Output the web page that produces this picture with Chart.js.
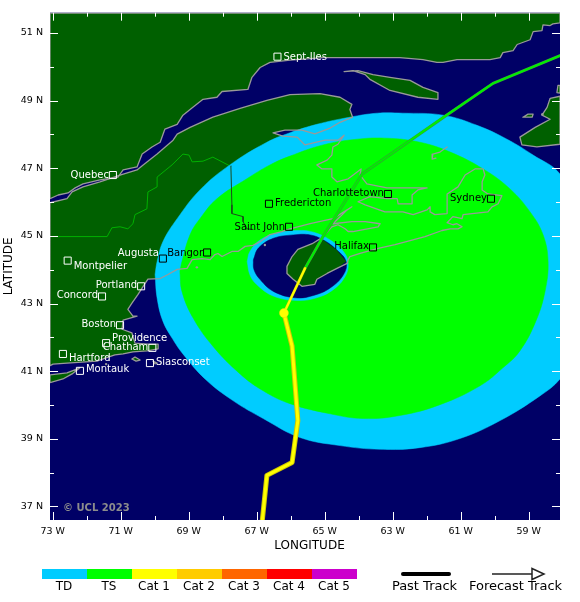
<!DOCTYPE html>
<html><head><meta charset="utf-8">
<style>html,body{margin:0;padding:0;background:#fff}canvas{display:block}</style>
<script src="https://cdn.jsdelivr.net/npm/chart.js@4/dist/chart.umd.min.js"></script>
</head><body><canvas id="c" width="580" height="602"></canvas>
<script>
// Axis ranges and ticks (degrees)
const lonRange=[-73.08,-58.08];
const latRange=[36.6,51.6];
const lonTicks=[-73,-71,-69,-67,-65,-63,-61,-59];
const lonMinor=[-72,-70,-68,-66,-64,-62,-60];
const latTicks=[37,39,41,43,45,47,49,51];
const latMinor=[38,40,42,44,46,48,50];

// Coastlines [lon,lat]
const northShore=[[-73.08,46.10],[-72.84,46.21],[-72.55,46.27],[-72.34,46.42],[-72.11,46.54],[-71.61,46.66],[-71.08,46.74],[-70.93,46.95],[-70.52,47.04],[-70.37,47.42],[-70.08,47.63],[-69.84,47.77],[-69.70,48.16],[-69.34,48.30],[-69.17,48.57],[-68.96,48.74],[-68.58,49.04],[-68.17,49.10],[-68.02,49.27],[-67.26,49.33],[-67.14,49.69],[-66.90,49.98],[-66.61,50.13],[-66.02,50.20],[-65.05,50.27],[-63.87,50.27],[-62.79,50.27],[-62.11,50.21],[-61.70,50.13],[-61.52,50.13],[-61.11,50.21],[-60.14,50.21],[-59.84,50.27],[-59.76,50.42],[-59.46,50.48],[-59.34,50.66],[-58.96,50.80],[-58.87,51.04],[-58.61,51.07],[-58.58,51.24],[-58.37,51.22],[-58.29,51.27],[-58.08,51.30],[-58.08,51.59],[-73.08,51.59]];
const mainCoast=[[-73.08,45.98],[-72.58,46.10],[-72.43,46.30],[-72.11,46.45],[-71.61,46.60],[-71.02,46.80],[-70.52,46.95],[-70.34,47.10],[-69.93,47.42],[-69.46,47.83],[-69.34,48.01],[-68.96,48.21],[-68.29,48.51],[-67.49,48.77],[-66.70,49.01],[-66.02,49.18],[-65.14,49.21],[-64.55,49.10],[-64.20,48.89],[-64.26,48.74],[-64.18,48.51],[-64.55,48.36],[-64.84,48.19],[-65.29,48.02],[-65.67,48.13],[-66.17,48.13],[-66.52,48.05],[-66.23,47.95],[-65.81,47.92],[-65.58,47.69],[-64.99,47.83],[-64.61,47.83],[-64.43,47.98],[-64.61,47.71],[-64.76,47.63],[-64.79,47.39],[-64.93,47.24],[-65.23,47.10],[-65.08,46.98],[-64.79,46.98],[-64.79,46.74],[-64.64,46.60],[-64.31,46.69],[-63.93,46.98],[-63.96,46.80],[-63.76,46.54],[-63.17,46.42],[-61.99,46.42],[-62.26,46.36],[-62.43,46.21],[-62.43,45.95],[-62.84,45.95],[-62.87,46.10],[-63.17,46.10],[-63.67,46.16],[-64.02,46.01],[-63.81,45.92],[-63.23,45.71],[-62.70,45.71],[-62.40,45.63],[-61.99,45.77],[-61.90,45.86],[-61.90,45.71],[-61.76,45.63],[-61.40,45.66],[-61.40,46.24],[-61.08,46.45],[-60.87,46.80],[-60.58,46.98],[-60.34,46.98],[-60.29,46.80],[-60.37,46.60],[-60.37,46.36],[-60.20,46.24],[-59.79,46.19],[-59.90,45.95],[-60.08,45.86],[-60.20,45.71],[-60.93,45.63],[-60.96,45.51],[-61.23,45.57],[-61.40,45.39],[-61.23,45.33],[-61.11,45.36],[-60.96,45.27],[-61.08,45.21],[-61.31,45.21],[-61.55,45.16],[-62.05,44.98],[-62.49,44.86],[-62.93,44.74],[-63.43,44.63],[-63.96,44.48],[-64.26,44.39],[-64.31,44.30],[-64.34,44.19],[-64.64,44.04],[-64.93,43.89],[-65.23,43.72],[-65.29,43.57],[-65.67,43.51],[-65.93,43.72],[-66.11,43.89],[-66.11,44.10],[-65.96,44.39],[-65.79,44.60],[-65.37,44.77],[-65.08,44.95],[-64.79,45.27],[-64.61,45.33],[-64.40,45.21],[-64.31,45.13],[-64.17,45.13],[-63.43,45.27],[-63.37,45.36],[-63.81,45.42],[-64.20,45.42],[-64.76,45.36],[-64.34,45.77],[-64.20,45.86],[-64.34,45.77],[-64.76,45.51],[-65.43,45.36],[-66.02,45.21],[-66.26,45.13],[-66.61,45.04],[-66.90,44.83],[-67.11,44.72],[-67.34,44.69],[-67.55,44.54],[-67.73,44.54],[-68.02,44.39],[-68.14,44.48],[-68.23,44.45],[-68.37,44.30],[-68.61,44.33],[-68.90,44.30],[-69.05,44.04],[-69.34,44.01],[-69.61,43.86],[-69.84,43.74],[-70.20,43.72],[-70.34,43.51],[-70.49,43.27],[-70.67,43.01],[-70.79,42.83],[-70.64,42.63],[-70.52,42.63],[-70.93,42.51],[-70.96,42.24],[-70.67,42.13],[-70.58,41.83],[-70.20,41.80],[-69.90,41.80],[-69.90,41.66],[-70.23,41.60],[-70.64,41.57],[-70.93,41.51],[-71.17,41.48],[-71.26,41.45],[-71.70,41.30],[-72.58,41.24],[-72.99,41.21],[-73.08,41.16]];
const holeLand=[[-65.04,44.88],[-65.37,44.77],[-65.79,44.60],[-65.96,44.39],[-66.11,44.10],[-66.11,43.89],[-65.93,43.72],[-65.67,43.51],[-65.29,43.57],[-65.23,43.72],[-64.93,43.89],[-64.64,44.04],[-64.37,44.24],[-64.65,44.59]];
const anticosti=[[-64.43,49.86],[-64.17,49.89],[-63.81,49.77],[-63.67,49.63],[-63.08,49.30],[-62.26,49.10],[-61.67,49.04],[-61.67,49.24],[-62.11,49.39],[-62.49,49.60],[-63.08,49.69],[-63.58,49.77],[-64.02,49.89]];
const newfoundland=[[-58.08,49.13],[-58.37,49.07],[-58.46,48.80],[-58.61,48.57],[-58.37,48.45],[-58.81,48.21],[-59.26,47.92],[-59.20,47.69],[-58.76,47.63],[-58.08,47.71]];
const nfNorthBit=[[-58.14,49.45],[-58.17,49.24],[-58.08,49.22],[-58.08,49.45]];
const nfIslet=[[-59.17,48.51],[-59.02,48.60],[-58.87,48.60],[-58.90,48.51]];
const longIsland=[[-73.08,40.89],[-72.58,40.95],[-72.20,41.10],[-72.43,40.92],[-72.70,40.77],[-73.08,40.66]];
const marthasVineyard=[[-70.67,41.36],[-70.58,41.42],[-70.43,41.33],[-70.55,41.30]];
const nantucket=[[-70.05,41.30],[-69.93,41.24],[-70.00,41.22]];
const magdalen=[[-61.40,47.63],[-61.61,47.48],[-61.82,47.42],[-61.84,47.27],[-61.73,47.30]];
const tinyIslands=[[-68.76,44.07],[-66.76,44.73],[-71.43,41.21],[-58.6,48.6]];

// Border lines
const borderLand=[[-73.08,44.98],[-71.40,44.98],[-71.26,45.24],[-71.02,45.27],[-70.79,45.21],[-70.64,45.36],[-70.58,45.63],[-70.23,45.80],[-70.20,46.30],[-69.93,46.45],[-69.93,46.74],[-69.49,47.10],[-69.17,47.42],[-68.99,47.39],[-68.90,47.19],[-68.58,47.21],[-68.29,47.33],[-67.79,47.07]];
const borderSwath=[[-67.76,47.07],[-67.73,45.92],[-67.73,45.66],[-67.40,45.57],[-67.40,45.42],[-67.29,45.21],[-67.11,45.19]];

// Wind swath contours
const swathTD=[[-69.99,43.86],[-69.93,44.24],[-69.76,44.83],[-69.34,45.51],[-68.67,46.36],[-67.79,47.10],[-66.70,47.77],[-66.02,48.05],[-65.23,48.30],[-64.26,48.51],[-63.46,48.63],[-62.70,48.63],[-61.52,48.57],[-60.52,48.27],[-59.64,47.86],[-58.87,47.39],[-58.08,46.83],[-57.20,45.27],[-56.76,43.66],[-57.05,42.19],[-58.08,40.77],[-58.67,40.27],[-59.84,39.54],[-61.02,39.01],[-62.20,38.74],[-63.37,38.69],[-64.55,38.80],[-65.73,39.04],[-66.81,39.60],[-67.70,40.13],[-68.52,40.77],[-69.17,41.51],[-69.49,41.98],[-69.76,42.48],[-69.93,43.16]];
const swathTS=[[-69.26,43.95],[-69.20,44.24],[-68.96,45.04],[-68.67,45.51],[-68.17,46.10],[-67.29,46.69],[-66.61,47.10],[-66.02,47.36],[-65.05,47.69],[-64.05,47.86],[-63.17,47.89],[-62.20,47.77],[-61.31,47.48],[-60.34,46.98],[-59.55,46.39],[-58.96,45.71],[-58.58,45.04],[-58.43,44.24],[-58.52,43.36],[-58.79,42.48],[-59.26,41.60],[-59.76,41.10],[-60.43,40.57],[-61.61,40.01],[-62.79,39.69],[-63.87,39.60],[-64.84,39.74],[-66.02,40.04],[-66.81,40.42],[-67.49,40.92],[-68.29,41.74],[-68.87,42.57],[-69.20,43.36]];
const innerTD=[[-67.28,44.24],[-67.20,44.54],[-66.90,44.88],[-66.41,45.08],[-65.82,45.16],[-65.33,45.11],[-64.84,44.88],[-64.45,44.54],[-64.31,44.19],[-64.40,43.80],[-64.75,43.41],[-65.24,43.17],[-65.82,43.09],[-66.51,43.22],[-67.00,43.56],[-67.20,43.85]];
const innerEye=[[-67.10,44.29],[-66.95,44.64],[-66.51,44.93],[-65.92,45.03],[-65.43,45.03],[-65.04,44.88],[-64.65,44.59],[-64.37,44.24],[-64.45,43.85],[-64.84,43.46],[-65.33,43.24],[-65.87,43.17],[-66.51,43.36],[-66.90,43.71],[-67.08,44.00]];

// Storm track
const pastTrack=[[-66.84,36.55],[-66.70,37.92],[-65.96,38.30],[-65.79,39.54],[-65.96,41.74],[-66.20,42.72]];
const forecastCat1=[[-66.20,42.72],[-65.58,44.04]];
const forecastTS=[[-65.58,44.04],[-65.05,44.98],[-63.90,46.83],[-61.46,48.54],[-60.05,49.51],[-58.08,50.33]];
const currentPos=[[-66.20,42.72]];

// Cities
const cityNames=['Sept-Iles','Quebec','Fredericton','Saint John','Charlottetown','Sydney','Halifax','Bangor','Augusta','Montpelier','Portland','Concord','Boston','Providence','Chatham','Hartford','Montauk','Siasconset'];
const cityLon=[-66.39,-71.23,-66.64,-66.05,-63.14,-60.11,-63.58,-68.46,-69.76,-72.56,-70.40,-71.55,-71.02,-71.43,-70.07,-72.70,-72.20,-70.14];
const cityLat=[50.30,46.80,45.95,45.27,46.24,46.10,44.66,44.51,44.33,44.27,43.51,43.21,42.36,41.83,41.69,41.51,41.01,41.24];
const cityAlign=['left','right','left','right','right','right','right','right','right','left','right','right','right','left','right','left','left','left'];
const cityDy=[1,0,0,1,-1,0,-1,1,-5,6,-1,-1,-1,-5,0,4,-1,-1];
const cityInSwath=[0,0,1,1,1,1,1,1,0,0,0,0,0,0,0,0,0,0];
const markerDark=[0,0,1,1,1,1,1,1,1,0,0,0,0,0,0,0,0,0];

// Legend
const legendLabels=['TD','TS','Cat 1','Cat 2','Cat 3','Cat 4','Cat 5'];
const legendColors=['#00ccff','#00ff00','#ffff00','#ffcc00','#ff6600','#ff0000','#cc00cc'];
const xTitle='LONGITUDE', yTitle='LATITUDE', credit='\u00a9 UCL 2023';

const OCEAN='#000066',LAND='#006000',COAST='#999999';
const pts=a=>a.map(p=>({x:p[0],y:p[1]}));
const ring=a=>pts(a.concat([a[0]]));
const area=(a,color,smooth)=>({data:ring(a),showLine:true,fill:'shape',backgroundColor:color,borderColor:color,borderWidth:smooth?0.5:0,tension:smooth?0.4:0});
const line=(a,color,w)=>({data:pts(a),showLine:true,fill:false,borderColor:color,borderWidth:w,tension:0,borderCapStyle:'round',borderJoinStyle:'round'});
const outline=a=>line(a.concat([a[0]]),COAST,1.3);

const layers=[
 area(northShore,LAND),area(mainCoast,LAND),area(anticosti,LAND),area(newfoundland,LAND),area(nfNorthBit,LAND),area(nfIslet,LAND),area(longIsland,LAND),area(marthasVineyard,LAND),area(nantucket,LAND),
 line(borderLand,'#00b000',1),
 area(swathTD,'#00ccff',true),area(swathTS,'#00ff00',true),area(innerTD,'#00ccff',true),area(innerEye,OCEAN,true),area(holeLand,LAND),
 outline(northShore),outline(mainCoast),outline(anticosti),outline(newfoundland),outline(nfNorthBit),outline(nfIslet),outline(longIsland),outline(marthasVineyard),outline(nantucket),line(magdalen,COAST,1.3),
 {data:pts(tinyIslands),showLine:false,pointRadius:1.2,pointBackgroundColor:COAST,pointBorderWidth:0},
 line(borderSwath,'#1c4a1c',1),
 line(forecastTS,'#3a9a3a',3),line(forecastTS,'#00f000',2),
 line(forecastCat1,'#d8d800',2.8),line(forecastCat1,'#ffff00',1.8),
 line(pastTrack,'#d0c800',5),line(pastTrack,'#ffff00',3),
 {data:pts(currentPos),showLine:false,pointRadius:4.5,pointBackgroundColor:'#ffff00',pointBorderColor:'#e0e000',pointBorderWidth:0.5},
 {data:cityLon.map((v,i)=>({x:v,y:cityLat[i]})),showLine:false,pointStyle:'rect',pointRadius:5,pointBackgroundColor:'rgba(0,0,0,0)',pointBorderWidth:1,pointBorderColor:markerDark.map(d=>d?'#000':'#fff')}
];

const mapPlugin={id:'map',
 beforeDatasetsDraw(ch){const {ctx,chartArea:a}=ch;ctx.save();ctx.fillStyle=OCEAN;ctx.fillRect(a.left,a.top,a.width,a.height);ctx.restore();},
 afterDatasetsDraw(ch){
  const {ctx,chartArea:a,scales:{x,y}}=ch;ctx.save();
  // ticks on all four sides
  ctx.strokeStyle='#fff';ctx.lineWidth=1;ctx.beginPath();
  const vt=(v,l)=>{const p=Math.round(x.getPixelForValue(v))+.5;ctx.moveTo(p,a.top);ctx.lineTo(p,a.top+l);ctx.moveTo(p,a.bottom);ctx.lineTo(p,a.bottom-l);};
  const ht=(v,l)=>{const p=Math.round(y.getPixelForValue(v))+.5;ctx.moveTo(a.left,p);ctx.lineTo(a.left+l,p);ctx.moveTo(a.right,p);ctx.lineTo(a.right-l,p);};
  lonTicks.forEach(v=>vt(v,8));lonMinor.forEach(v=>vt(v,4));latTicks.forEach(v=>ht(v,8));latMinor.forEach(v=>ht(v,4));ctx.stroke();
  // city labels
  ctx.font='10px "DejaVu Sans"';ctx.textBaseline='middle';
  cityNames.forEach((n,i)=>{const left=cityAlign[i]==='left';ctx.textAlign=cityAlign[i];ctx.fillStyle=cityInSwath[i]?'#000':'#fff';
   ctx.fillText(n,x.getPixelForValue(cityLon[i])+(left?6:-4),y.getPixelForValue(cityLat[i])+cityDy[i]);});
  ctx.font='bold 10px "DejaVu Sans"';ctx.textAlign='left';ctx.fillStyle='#8c8c8c';ctx.fillText(credit,63,508);
  // axis x title
  ctx.font='12px "DejaVu Sans"';ctx.textAlign='center';ctx.fillStyle='#000';ctx.fillText(xTitle,309.5,546);
  // legend
  const lx=42,lw=45,ly=569,lh=10;
  legendLabels.forEach((t,i)=>{ctx.fillStyle=legendColors[i];ctx.fillRect(lx+i*lw,ly,lw,lh);ctx.fillStyle='#000';ctx.fillText(t,lx+i*lw+lw/2-0.5,586.5);});
  ctx.font='13px "DejaVu Sans"';
  ctx.fillText('Past Track',424.5,586.5);ctx.fillText('Forecast Track',515.5,586.5);
  ctx.strokeStyle='#000';ctx.lineCap='round';ctx.lineWidth=4;ctx.beginPath();ctx.moveTo(403,574);ctx.lineTo(449,574);ctx.stroke();
  ctx.lineCap='butt';ctx.strokeStyle='#222';ctx.lineWidth=1.5;ctx.beginPath();ctx.moveTo(492,574);ctx.lineTo(532,574);ctx.stroke();
  ctx.beginPath();ctx.moveTo(532,568.5);ctx.lineTo(544,574);ctx.lineTo(532,579.5);ctx.closePath();ctx.stroke();
  ctx.restore();
 }};

new Chart(document.getElementById('c'),{
 type:'scatter',
 data:{datasets:layers.slice().reverse()},
 plugins:[mapPlugin],
 options:{responsive:false,animation:false,devicePixelRatio:1,
  layout:{padding:{top:10,right:20,left:0,bottom:0}},
  elements:{point:{radius:0}},
  plugins:{legend:{display:false},tooltip:{enabled:false}},
  scales:{
   x:{type:'linear',min:lonRange[0],max:lonRange[1],position:'bottom',
    grid:{display:false,drawTicks:false},border:{display:false},
    afterBuildTicks:s=>{s.ticks=lonTicks.map(v=>({value:v}));},
    afterFit:s=>{s.height=82;},
    ticks:{autoSkip:false,maxRotation:0,padding:6,color:'#000',font:{family:'"DejaVu Sans"',size:9.5},callback:v=>Math.abs(v)+' W'}},
   y:{type:'linear',min:latRange[0],max:latRange[1],position:'left',
    grid:{display:false,drawTicks:false},border:{display:false},
    afterBuildTicks:s=>{s.ticks=latTicks.map(v=>({value:v}));},
    afterFit:s=>{s.width=50;},
    title:{display:true,text:yTitle,color:'#000',font:{family:'"DejaVu Sans"',size:12},padding:{top:2,bottom:0}},
    ticks:{autoSkip:false,padding:7,color:'#000',font:{family:'"DejaVu Sans"',size:9.5},callback:v=>v+' N'}}
  }}
});
</script></body></html>
